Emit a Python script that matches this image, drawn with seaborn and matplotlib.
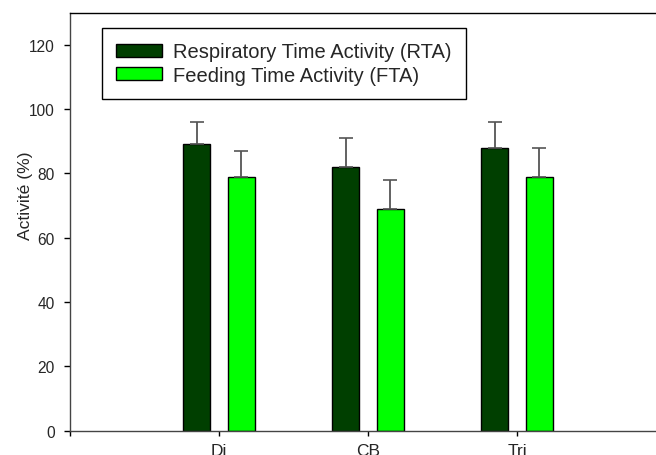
import matplotlib
matplotlib.use('Agg')
import matplotlib.pyplot as plt
import seaborn as sns
import pandas as pd
import numpy as np

# ---- data ----
categories = ['Di', 'CB', 'Tri']
series = ['Respiratory Time Activity (RTA)', 'Feeding Time Activity (FTA)']
rta_values = [89, 82, 88]
rta_errors = [7, 9, 8]
fta_values = [79, 69, 79]
fta_errors = [8, 9, 9]
y_ticks = [0, 20, 40, 60, 80, 100, 120]
y_label = 'Activité (%)'
colors = ['#003f00', '#00ff00']

sns.set_theme(style='ticks')
plt.rcParams['font.family'] = ['Liberation Sans', 'DejaVu Sans']

df = pd.DataFrame({
    'cat': categories * 2,
    'series': [series[0]] * len(categories) + [series[1]] * len(categories),
    'value': rta_values + fta_values,
})
errors = {series[0]: rta_errors, series[1]: fta_errors}

W, H = 656, 456
fig = plt.figure(figsize=(W / 100, H / 100), dpi=100)
y0_px = 431.7
ppu = 3.2167
ytop_px = y0_px - 130 * ppu
ax = fig.add_axes([70 / W, (H - y0_px) / H, 596 / W, (y0_px - ytop_px) / H])

sns.barplot(data=df, x='cat', y='value', hue='series', order=categories,
            hue_order=series, palette=colors, saturation=1, width=0.604,
            gap=0.4, edgecolor='black', linewidth=1, errorbar=None, ax=ax)

for cont, s in zip(ax.containers, series):
    xs = [b.get_x() + b.get_width() / 2 for b in cont]
    hs = [b.get_height() for b in cont]
    errs = errors[s]
    _, caps, bars = ax.errorbar(xs, hs, yerr=[np.zeros(len(errs)), errs],
                                fmt='none', ecolor='#555555', elinewidth=1.3,
                                capsize=4.7, capthick=1.2, zorder=1)
    for c in caps:
        c.set_color('black')

ax.set_xlim(-1, 3)
ax.set_ylim(0, 130)
ax.set_xticks([-1, 0, 1, 2])
ax.set_xticklabels(['', 'Di', 'CB', 'Tri'], fontsize=12.5)
ax.set_yticks(y_ticks)
ax.set_yticklabels([str(v) for v in y_ticks], fontsize=11.2)
ax.tick_params(axis='y', direction='out', length=4.3, width=1, color='black', pad=6.5)
ax.tick_params(axis='x', direction='out', length=3.6, width=1, color='black', pad=5)
ax.set_xlabel('')
ax.set_ylabel(y_label, fontsize=12.6)
ax.yaxis.set_label_coords(-0.062, 0.564)
for sp in ax.spines.values():
    sp.set_visible(True)
    sp.set_color('black')
    sp.set_linewidth(1)
ax.spines['left'].set_color('#444444')
ax.spines['bottom'].set_color('#444444')

handles, labels = ax.get_legend_handles_labels()
leg = ax.legend(handles, labels, loc='upper left',
                bbox_to_anchor=(101.7 / W, 1 - 29.3 / H),
                bbox_transform=fig.transFigure, borderaxespad=0,
                frameon=True, fancybox=False, framealpha=1,
                edgecolor='black', fontsize=14.5, handlelength=2.27,
                handleheight=0.58, handletextpad=0.58, labelspacing=0.22,
                borderpad=0.7)
leg.get_frame().set_linewidth(1)

fig.savefig('out.png', dpi=100)
